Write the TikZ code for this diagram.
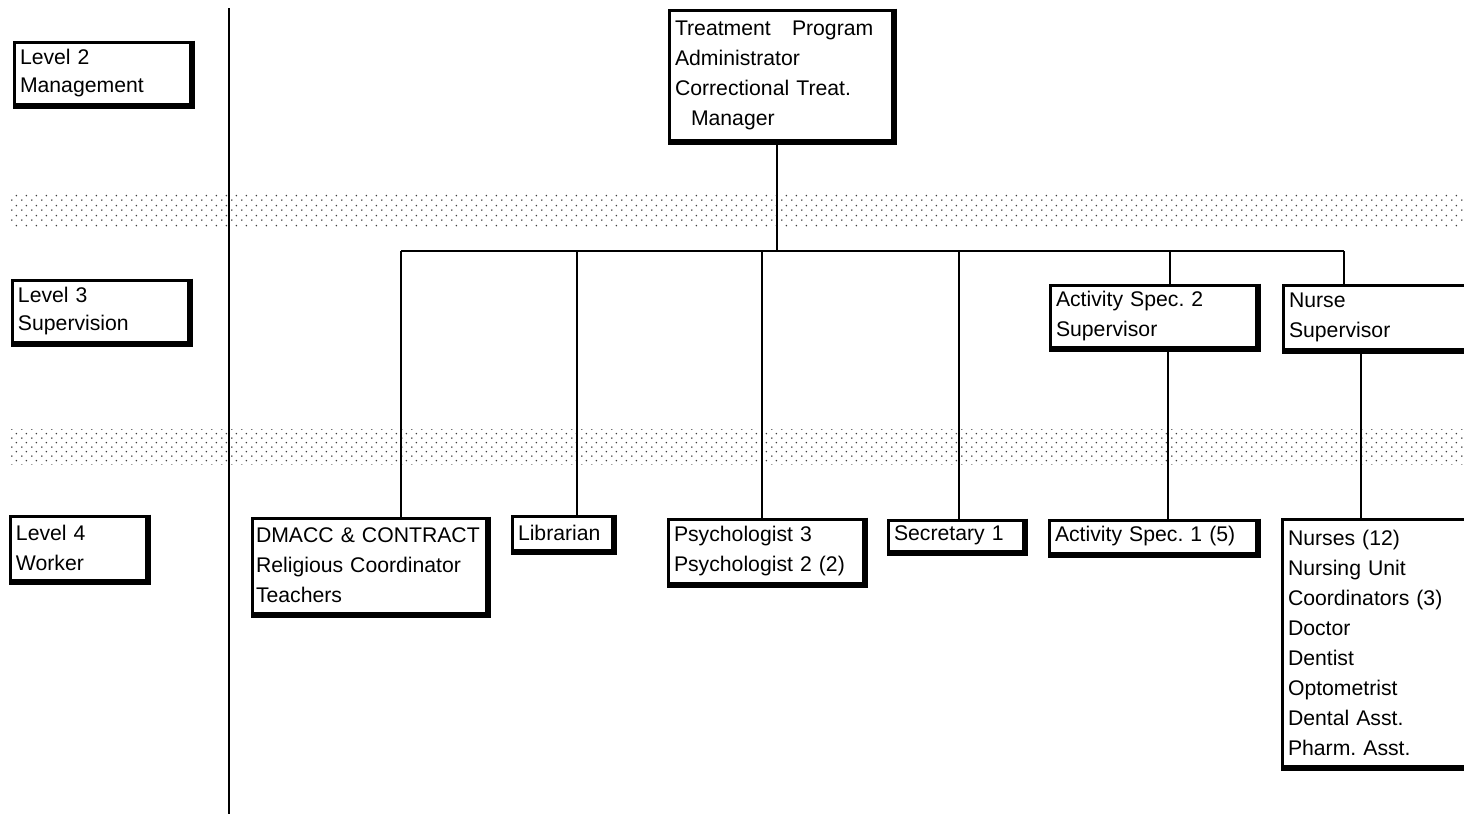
\documentclass[tikz,border=0pt]{standalone}
\usepackage{fontspec}
\setmainfont{Liberation Sans}
\frenchspacing
\usetikzlibrary{patterns}

\pgfdeclarepatternformonly{stagdots}{\pgfqpoint{0pt}{0pt}}{\pgfqpoint{5pt}{4.7pt}}{\pgfqpoint{5pt}{4.7pt}}{%
  \pgfpathcircle{\pgfqpoint{1pt}{1pt}}{0.45pt}%
  \pgfpathcircle{\pgfqpoint{3.5pt}{3.35pt}}{0.45pt}%
  \pgfusepath{fill}}

\begin{document}
\begin{tikzpicture}[x=0.5pt,y=-0.5pt,
    post/.style={draw,fill=white,line width=1.5pt,align=left,inner xsep=3pt,inner ysep=1pt,
      font=\fontsize{10.6}{15}\selectfont},
    heavy/.style={line width=1.6pt},
    link/.style={line width=0.9pt},
    band/.style={pattern=stagdots,pattern color=black!75}]

        \useasboundingbox (0,0) rectangle (1464,814);

        \fill[band] (10,191) rectangle (1464,226); % upper band
        \fill[band] (10,429) rectangle (1464,464); % lower band

        \coordinate (dtop) at (229,8);
        \coordinate (dbot) at (229,814);
        \draw[line width=1.3pt] (dtop) -- (dbot); % divider

        % levels
        \node[post,text width=82pt,minimum height=31pt,font=\fontsize{10.6}{14}\selectfont] (lvltwo) at (102,73) {Level 2\\Management};
        \node[post,text width=82pt,minimum height=31pt,font=\fontsize{10.6}{14}\selectfont] (lvlthree) at (100,311) {Level 3\\Supervision};
        \node[post,text width=62pt,minimum height=32pt] (lvlfour) at (78,548) {Level 4\\Worker};

        % posts
        \node[post,text width=105.5pt,minimum height=65pt] (admin) at (780.5,75)
            {Treatment\ \ \ Program\\Administrator\\Correctional Treat.\\\hspace*{8pt}Manager};
        \node[post,text width=97pt,minimum height=31pt] (actsup) at (1153,316) {Activity Spec. 2\\Supervisor};
        \node[post,text width=92pt,minimum height=32pt] (nursup) at (1381,317) {Nurse\\Supervisor};
        \node[post,inner xsep=2pt,text width=113pt,minimum height=47.5pt] (dmacc) at (369,565.5)
            {DMACC \& CONTRACT\\Religious Coordinator\\Teachers};
        \node[post,text width=44pt,minimum height=17pt] (libr) at (562,533) {Librarian};
        \node[post,text width=91.5pt,minimum height=32pt] (psych) at (765.5,551) {Psychologist 3\\Psychologist 2 (2)};
        \node[post,text width=61.5pt,minimum height=15.5pt] (secr) at (955.5,535.5) {Secretary 1};
        \node[post,text width=97.5pt,minimum height=16.5pt] (actspec) at (1152.5,536.5) {Activity Spec. 1 (5)};
        \node[post,text width=92.5pt,minimum height=123.5pt] (nurses) at (1380.5,642.5)
            {Nurses (12)\\Nursing Unit\\Coordinators (3)\\Doctor\\Dentist\\Optometrist\\Dental Asst.\\Pharm. Asst.};

        % heavier bottom and right edges
        \foreach \n in {lvltwo,lvlthree,lvlfour,admin,actsup,nursup,dmacc,libr,psych,secr,actspec,nurses}
            \draw[heavy] ([xshift=0.9pt]\n.north east) -- ([xshift=0.9pt,yshift=-0.9pt]\n.south east) -- ([yshift=-0.9pt]\n.south west);

        % bus
        \coordinate (jtop) at (777,251);
        \coordinate (ja) at (401,251);
        \coordinate (jb) at (577,251);
        \coordinate (jc) at (762,251);
        \coordinate (jd) at (959,251);
        \coordinate (je) at (1170,251);
        \coordinate (jf) at (1344,251);
        \coordinate (ke) at (1168,400);
        \coordinate (kf) at (1361,400);

        \draw[link] (jtop |- admin.south) -- (jtop);
        \draw[link] (ja) -- (jf);
        \draw[link] (ja) -- (ja |- dmacc.north);
        \draw[link] (jb) -- (jb |- libr.north);
        \draw[link] (jc) -- (jc |- psych.north);
        \draw[link] (jd) -- (jd |- secr.north);
        \draw[link] (je) -- (je |- actsup.north);
        \draw[link] (jf) -- (jf |- nursup.north);

        \draw[link] (ke |- actsup.south) -- (ke |- actspec.north);
        \draw[link] (kf |- nursup.south) -- (kf |- nurses.north);
\end{tikzpicture}
\end{document}
